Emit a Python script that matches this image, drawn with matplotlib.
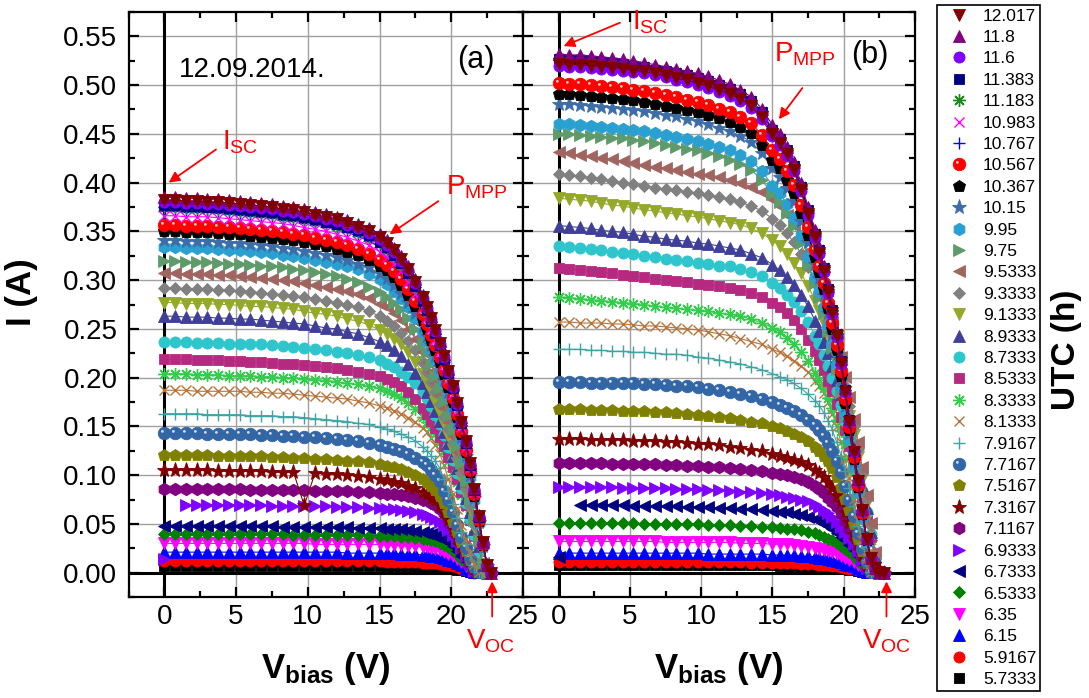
"""
I-V sweeps of the PV module on 12.09.2014, two panels (a) and (b),
one curve per sweep, labelled by the UTC hour of the sweep.
"""

import numpy as np
import matplotlib

matplotlib.use("Agg")

import matplotlib.pyplot as plt
from matplotlib.colors import to_rgb
from matplotlib.lines import Line2D
from matplotlib.path import Path
from matplotlib.ticker import FormatStrFormatter, MultipleLocator

plt.rcParams["font.family"] = ["Liberation Sans", "DejaVu Sans"]
plt.rcParams["mathtext.fontset"] = "custom"
plt.rcParams["mathtext.rm"] = "Liberation Sans"
plt.rcParams["mathtext.it"] = "Liberation Sans:italic"
plt.rcParams["mathtext.bf"] = "Liberation Sans:bold"

nan = float("nan")


# --------------------------------------------------------
# Data (currents in mA, latest sweep first)
# --------------------------------------------------------

utc_hours = [
    "12.017", "11.8", "11.6", "11.383", "11.183", "10.983", "10.767", "10.567",
    "10.367", "10.15", "9.95", "9.75", "9.5333", "9.3333", "9.1333", "8.9333",
    "8.7333", "8.5333", "8.3333", "8.1333", "7.9167", "7.7167", "7.5167", "7.3167",
    "7.1167", "6.9333", "6.7333", "6.5333", "6.35", "6.15", "5.9167", "5.7333",
]

bias_v = [
    0, 0.75, 1.5, 2.25, 3, 3.75, 4.5, 5.25, 6, 6.75, 7.5, 8.25, 9, 9.75, 10.5,
    11.25, 12, 12.75, 13.5, 14.25, 15, 15.5, 16, 16.5, 17, 17.5, 18, 18.3, 18.6,
    18.9, 19.2, 19.5, 19.8, 20.1, 20.4, 20.7, 21.0, 21.3, 21.6, 21.9, 22.2, 22.5, 22.8,
]

current_a = [
    [382, 382, 381, 381, 380, 380, 379, 378, 377, 376, 375, 373, 372, 370, 367, 365, 363, 359, 355, 350, 344, 338, 331, 322, 311, 298, 283, 272, 261, 249, 236, 222, 207, 191, 174, 155, 135, 112, 86, 58, 31, 8, 0],
    [385, 385, 384, 384, 383, 383, 382, 381, 380, 379, 378, 376, 375, 373, 370, 368, 365, 362, 358, 353, 347, 341, 333, 325, 314, 301, 285, 275, 263, 251, 238, 224, 209, 193, 176, 157, 136, 113, 87, 59, 31, 8, 0],
    [380, 380, 379, 379, 378, 378, 377, 376, 375, 374, 373, 371, 370, 368, 366, 363, 361, 357, 353, 348, 342, 336, 329, 320, 310, 297, 282, 271, 260, 248, 235, 221, 206, 190, 173, 155, 134, 111, 86, 58, 30, 8, 0],
    [377, 377, 376, 376, 375, 375, 374, 373, 372, 371, 370, 368, 367, 365, 363, 360, 358, 354, 351, 346, 339, 334, 326, 318, 307, 294, 279, 269, 258, 246, 233, 219, 205, 189, 172, 153, 133, 110, 85, 57, 30, 8, 0],
    [375, 375, 374, 374, 373, 373, 372, 371, 370, 369, 368, 366, 365, 363, 361, 359, 356, 353, 349, 344, 338, 332, 325, 316, 306, 293, 278, 267, 257, 245, 232, 218, 204, 188, 171, 153, 132, 110, 85, 57, 30, 8, 0],
    [366, 366, 365, 365, 365, 364, 363, 362, 361, 360, 359, 358, 356, 354, 352, 350, 347, 344, 340, 336, 329, 324, 317, 309, 298, 286, 271, 261, 250, 239, 226, 213, 199, 183, 167, 149, 129, 107, 83, 56, 29, 7, 0],
    [371, 371, 370, 370, 370, 369, 368, 367, 366, 365, 364, 362, 361, 359, 357, 355, 352, 349, 345, 340, 334, 328, 321, 313, 302, 290, 275, 265, 254, 242, 229, 216, 201, 186, 169, 151, 131, 109, 84, 56, 30, 7, 0],
    [357, 357, 356, 356, 356, 355, 354, 353, 352, 351, 350, 349, 347, 346, 343, 341, 339, 336, 332, 327, 321, 316, 309, 301, 291, 279, 265, 255, 244, 233, 221, 208, 194, 179, 163, 145, 126, 105, 81, 54, 29, 7, 0],
    [350, 350, 349, 349, 349, 348, 347, 347, 345, 344, 343, 342, 341, 339, 337, 335, 332, 329, 326, 321, 315, 310, 303, 295, 285, 273, 259, 250, 239, 228, 216, 204, 190, 175, 160, 142, 124, 103, 79, 53, 28, 7, 0],
    [341, 341, 340, 340, 340, 339, 338, 338, 337, 336, 335, 333, 332, 330, 328, 326, 324, 321, 317, 313, 307, 302, 295, 287, 278, 266, 253, 243, 233, 222, 211, 198, 185, 171, 155, 139, 120, 100, 77, 52, 27, 7, 0],
    [334, 334, 333, 333, 333, 332, 331, 331, 330, 329, 328, 326, 325, 323, 321, 319, 317, 314, 311, 306, 301, 296, 289, 282, 272, 261, 247, 238, 228, 218, 206, 194, 181, 167, 152, 136, 118, 98, 75, 51, 27, 7, 0],
    [320, 320, 319, 319, 319, 318, 317, 317, 316, 315, 314, 313, 311, 310, 308, 306, 304, 301, 298, 293, 288, 283, 277, 270, 261, 250, 236, 226, 214, 202, 189, 176, 161, 146, 130, 112, 94, 75, 54, 33, 10, 0],
    [307, 307, 306, 306, 306, 305, 305, 304, 303, 302, 301, 300, 299, 297, 295, 293, 291, 289, 286, 282, 276, 272, 266, 259, 250, 240, 226, 216, 206, 194, 182, 169, 155, 140, 124, 108, 90, 72, 52, 31, 10, 0],
    [292, 292, 291, 291, 291, 290, 290, 289, 288, 287, 286, 285, 284, 283, 281, 279, 277, 274, 272, 268, 263, 258, 253, 246, 238, 228, 215, 206, 196, 185, 173, 160, 147, 133, 118, 102, 86, 68, 50, 30, 9, 0],
    [277, 277, 276, 276, 276, 275, 275, 274, 273, 273, 272, 271, 270, 268, 266, 265, 263, 260, 258, 254, 249, 245, 240, 234, 226, 216, 204, 195, 186, 175, 164, 152, 140, 126, 112, 97, 81, 65, 47, 28, 9, 0],
    [263, 263, 262, 262, 262, 261, 261, 260, 260, 259, 258, 257, 256, 255, 253, 251, 250, 247, 245, 241, 237, 233, 228, 222, 214, 205, 194, 185, 176, 166, 156, 144, 133, 120, 107, 92, 77, 62, 45, 27, 8, 0],
    [237, 237, 237, 236, 236, 236, 235, 235, 234, 234, 233, 232, 231, 230, 229, 228, 226, 225, 223, 221, 218, 214, 211, 206, 201, 194, 186, 179, 171, 162, 152, 141, 129, 116, 102, 87, 71, 55, 39, 22, 6, 0],
    [219, 219, 219, 218, 218, 218, 217, 217, 216, 216, 215, 214, 214, 213, 212, 211, 210, 208, 206, 204, 202, 199, 196, 191, 185, 178, 169, 163, 156, 148, 139, 130, 119, 108, 96, 83, 69, 54, 38, 22, 6, 0],
    [204, 204, 204, 203, 203, 203, 202, 202, 202, 201, 201, 200, 200, 199, 198, 197, 196, 194, 193, 191, 189, 186, 183, 179, 174, 168, 160, 155, 149, 142, 134, 125, 115, 104, 93, 80, 67, 53, 38, 22, 6, 0],
    [187, 187, 187, 186, 186, 186, 186, 186, 185, 185, 184, 184, 183, 182, 181, 180, 179, 178, 176, 174, 171, 169, 166, 163, 159, 154, 148, 144, 138, 131, 122, 110, 96, 81, 65, 49, 34, 21, 9, 1],
    [163, 163, 163, 163, 162, 162, 162, 162, 161, 161, 161, 160, 160, 159, 158, 157, 156, 155, 153, 152, 149, 147, 145, 142, 139, 135, 129, 125, 120, 114, 107, 96, 84, 70, 56, 42, 29, 18, 8, 1],
    [143, 143, 143, 143, 142, 142, 142, 142, 142, 141, 141, 140, 140, 139, 139, 138, 137, 136, 135, 133, 131, 129, 127, 125, 122, 118, 113, 110, 105, 100, 94, 84, 74, 62, 49, 37, 26, 16, 7, 1],
    [121, 121, 121, 121, 121, 120, 120, 120, 120, 120, 119, 119, 118, 118, 117, 117, 116, 115, 114, 113, 111, 109, 108, 106, 103, 100, 96, 93, 89, 85, 79, 71, 62, 52, 42, 31, 22, 13, 6, 1],
    [105, 105, 105, 105, 105, 104, 104, 104, 104, 104, 103, 103, 103, 69, 102, 101, 101, 100, 99, 98, 96, 95, 93, 92, 89, 87, 83, 81, 77, 74, 69, 62, 54, 45, 36, 27, 19, 12, 5, 1],
    [86, 86, 86, 86, 86, 86, 86, 86, 85, 85, 85, 85, 85, 85, 84, 84, 84, 84, 83, 83, 82, 81, 81, 80, 79, 77, 75, 74, 71, 69, 65, 61, 55, 48, 40, 31, 21, 11, 3],
    [14, nan, 69, 69, 69, 69, 69, 69, 69, 69, 68, 68, 68, 68, 68, 68, 67, 67, 67, 66, 66, 65, 65, 64, 63, 62, 60, 59, 57, 55, 52, 49, 44, 39, 32, 25, 17, 9, 2],
    [48, 48, 48, 48, 48, 48, 48, 48, 48, 48, 48, 47, 47, 47, 47, 47, 47, 47, 46, 46, 46, 45, 45, 45, 44, 43, 42, 41, 40, 38, 36, 34, 31, 27, 22, 17, 12, 6, 1],
    [40, 40, 40, 40, 40, 40, 40, 40, 40, 40, 40, 40, 39, 39, 39, 39, 39, 39, 39, 38, 38, 38, 38, 37, 37, 36, 35, 34, 33, 32, 30, 28, 26, 22, 19, 14, 10, 5, 1],
    [30, 30, 30, 30, 30, 30, 30, 30, 30, 30, 30, 30, 30, 30, 29, 29, 29, 29, 29, 29, 29, 28, 28, 28, 27, 27, 26, 26, 25, 24, 23, 21, 19, 17, 14, 11, 7, 4, 1],
    [21, 21, 21, 21, 21, 21, 21, 21, 21, 21, 21, 21, 21, 21, 21, 21, 21, 20, 20, 20, 20, 20, 20, 19, 19, 19, 18, 18, 17, 17, 16, 15, 13, 12, 10, 8, 5, 3, 1],
    [12, 12, 12, 12, 12, 12, 12, 12, 12, 12, 12, 12, 12, 12, 12, 12, 12, 12, 12, 12, 12, 11, 11, 11, 11, 11, 10, 10, 10, 10, 9, 8, 8, 7, 6, 4, 3, 2, 0],
    [7, 7, 7, 7, 7, 7, 7, 7, 7, 7, 7, 7, 7, 7, 7, 7, 7, 7, 7, 7, 7, 7, 7, 7, 7, 6, 6, 6, 6, 6, 5, 5, 4, 4, 3, 3, 2, 1, 0],
]

current_b = [
    [522, 521, 521, 520, 519, 518, 517, 515, 514, 512, 509, 507, 505, 502, 499, 495, 491, 486, 479, 467, 450, 441, 429, 413, 392, 368, 344, 328, 309, 288, 266, 243, 215, 185, 155, 124, 94, 64, 35, 15, 5, 1, 0],
    [532, 531, 531, 530, 529, 528, 527, 525, 523, 521, 519, 517, 514, 512, 509, 505, 501, 495, 488, 476, 459, 450, 437, 421, 400, 375, 351, 334, 315, 294, 271, 247, 219, 189, 158, 127, 96, 65, 36, 15, 5, 1, 0],
    [520, 519, 519, 518, 517, 516, 515, 513, 512, 510, 508, 505, 503, 500, 497, 493, 489, 484, 477, 465, 448, 439, 427, 412, 391, 367, 343, 327, 308, 287, 265, 242, 214, 185, 154, 124, 94, 63, 35, 15, 5, 1, 0],
    [527, 526, 526, 525, 524, 523, 522, 520, 519, 516, 514, 512, 510, 507, 504, 500, 496, 491, 484, 472, 454, 445, 433, 417, 396, 372, 347, 331, 312, 291, 269, 245, 217, 187, 157, 125, 95, 64, 36, 15, 5, 1, 0],
    [528, 527, 527, 526, 525, 524, 523, 521, 520, 517, 515, 513, 511, 508, 505, 501, 497, 492, 485, 473, 455, 446, 433, 418, 397, 372, 348, 332, 313, 291, 269, 246, 218, 187, 157, 126, 95, 64, 36, 15, 5, 1, 0],
    [524, 523, 523, 522, 521, 520, 519, 517, 516, 514, 511, 509, 507, 504, 501, 497, 493, 488, 481, 469, 452, 443, 430, 415, 394, 369, 345, 329, 310, 289, 267, 244, 216, 186, 156, 125, 94, 64, 36, 15, 5, 1, 0],
    [526, 525, 525, 524, 523, 522, 521, 519, 518, 515, 513, 511, 509, 506, 503, 499, 495, 490, 483, 471, 453, 444, 432, 417, 395, 371, 347, 330, 311, 290, 268, 245, 217, 187, 156, 125, 95, 64, 36, 15, 5, 1, 0],
    [502, 501, 501, 500, 499, 498, 497, 495, 494, 492, 490, 488, 485, 483, 480, 476, 472, 467, 461, 449, 433, 424, 412, 398, 377, 354, 331, 315, 297, 277, 256, 233, 207, 178, 149, 119, 90, 61, 34, 14, 5, 1, 0],
    [491, 491, 490, 489, 488, 487, 486, 485, 483, 481, 479, 477, 475, 472, 469, 466, 462, 457, 451, 439, 423, 415, 403, 389, 369, 346, 324, 308, 291, 271, 250, 228, 202, 174, 146, 117, 88, 60, 33, 14, 4, 1, 0],
    [481, 481, 480, 479, 478, 477, 476, 475, 473, 471, 469, 468, 465, 463, 460, 456, 453, 448, 442, 430, 415, 406, 395, 381, 361, 339, 317, 302, 285, 266, 245, 224, 198, 171, 143, 114, 87, 59, 33, 13, 4, 1, 0],
    [460, 460, 459, 458, 457, 456, 455, 454, 453, 451, 449, 447, 445, 443, 440, 437, 433, 428, 422, 412, 397, 389, 378, 364, 345, 324, 303, 289, 272, 254, 235, 214, 190, 163, 137, 109, 83, 56, 31, 13, 4, 1, 0],
    [450, 450, 449, 448, 447, 446, 446, 444, 443, 441, 439, 437, 435, 433, 430, 427, 423, 419, 413, 403, 388, 380, 369, 356, 338, 317, 297, 283, 266, 248, 230, 209, 185, 160, 134, 107, 81, 55, 31, 13, 4, 1, 0],
    [431, 430, 428, 427, 425, 424, 422, 420, 418, 416, 415, 413, 411, 409, 408, 406, 403, 400, 396, 390, 383, 376, 367, 357, 345, 330, 313, 301, 287, 273, 257, 240, 221, 201, 180, 158, 134, 108, 80, 51, 21, 0],
    [409, 408, 407, 405, 404, 402, 400, 399, 397, 395, 393, 392, 390, 389, 387, 385, 383, 380, 376, 371, 363, 357, 348, 339, 327, 313, 297, 285, 273, 259, 244, 227, 210, 191, 171, 150, 127, 102, 76, 48, 20, 0],
    [384, 383, 382, 381, 379, 377, 376, 374, 372, 371, 369, 368, 366, 365, 363, 361, 359, 357, 353, 348, 341, 335, 327, 318, 307, 294, 279, 268, 256, 243, 229, 214, 197, 179, 161, 141, 119, 96, 71, 45, 18, 0],
    [356, 355, 354, 353, 351, 350, 349, 347, 345, 344, 342, 341, 340, 338, 337, 335, 333, 331, 327, 323, 316, 310, 303, 295, 285, 273, 258, 248, 237, 225, 212, 198, 183, 166, 149, 130, 110, 89, 66, 42, 17, 0],
    [335, 334, 333, 332, 331, 329, 328, 327, 325, 324, 322, 321, 320, 318, 317, 315, 314, 311, 308, 304, 297, 292, 285, 278, 268, 257, 243, 234, 223, 212, 200, 186, 172, 156, 140, 123, 104, 84, 62, 40, 16, 0],
    [312, 311, 310, 309, 308, 307, 305, 304, 303, 301, 300, 299, 298, 296, 295, 294, 292, 290, 287, 283, 277, 272, 266, 259, 250, 239, 227, 218, 208, 197, 186, 173, 160, 146, 130, 114, 97, 78, 58, 37, 15, 0],
    [283, 282, 281, 280, 279, 278, 277, 276, 275, 273, 272, 271, 270, 269, 268, 266, 265, 263, 260, 256, 251, 247, 241, 235, 226, 217, 205, 198, 189, 179, 169, 157, 145, 132, 118, 104, 88, 71, 53, 33, 14, 0],
    [257, 257, 256, 256, 256, 255, 255, 254, 253, 253, 252, 251, 250, 249, 247, 245, 243, 240, 237, 234, 229, 226, 222, 217, 212, 206, 197, 191, 184, 175, 163, 150, 134, 117, 97, 76, 54, 33, 15, 1],
    [229, 229, 229, 228, 228, 227, 227, 226, 226, 225, 224, 224, 223, 221, 220, 218, 216, 214, 211, 208, 204, 201, 198, 194, 189, 183, 176, 171, 164, 156, 146, 134, 120, 104, 87, 68, 48, 30, 13, 1],
    [196, 196, 196, 195, 195, 195, 194, 194, 193, 193, 192, 191, 191, 190, 188, 187, 185, 183, 181, 178, 175, 172, 169, 166, 162, 157, 151, 146, 140, 133, 125, 114, 103, 89, 74, 58, 41, 25, 11, 1],
    [168, 168, 168, 167, 167, 167, 166, 166, 166, 165, 165, 164, 163, 162, 161, 160, 159, 157, 155, 153, 150, 148, 145, 142, 139, 135, 129, 125, 120, 114, 107, 98, 88, 76, 64, 50, 35, 22, 10, 1],
    [137, 137, 137, 136, 136, 136, 136, 135, 135, 135, 134, 134, 133, 132, 132, 131, 129, 128, 126, 125, 122, 120, 118, 116, 113, 110, 105, 102, 98, 93, 87, 80, 72, 62, 52, 40, 29, 18, 8, 1],
    [112, 112, 112, 112, 112, 111, 111, 111, 111, 111, 110, 110, 109, 109, 108, 108, 107, 106, 105, 104, 102, 101, 100, 98, 96, 93, 89, 86, 82, 77, 72, 67, 60, 53, 45, 37, 27, 17, 6],
    [88, 88, 88, 88, 88, 88, 87, 87, 87, 87, 87, 86, 86, 86, 85, 85, 84, 83, 83, 82, 81, 80, 78, 77, 75, 73, 70, 67, 64, 61, 57, 52, 47, 42, 36, 29, 22, 13, 5],
    [16, nan, 69, 69, 69, 69, 69, 68, 68, 68, 68, 68, 67, 67, 67, 66, 66, 65, 65, 64, 63, 62, 62, 60, 59, 57, 55, 53, 50, 48, 45, 41, 37, 33, 28, 23, 17, 10, 4],
    [51, 51, 51, 51, 51, 51, 51, 51, 50, 50, 50, 50, 50, 50, 49, 49, 49, 48, 48, 47, 47, 46, 45, 45, 44, 42, 41, 39, 37, 35, 33, 30, 27, 24, 21, 17, 12, 8, 3],
    [32, 32, 32, 32, 32, 32, 32, 32, 32, 32, 31, 31, 31, 31, 31, 31, 31, 30, 30, 30, 29, 29, 29, 28, 27, 26, 25, 24, 23, 22, 21, 19, 17, 15, 13, 11, 8, 5, 2],
    [20, 20, 20, 20, 20, 20, 20, 20, 20, 20, 20, 20, 20, 20, 19, 19, 19, 19, 19, 19, 18, 18, 18, 18, 17, 17, 16, 15, 15, 14, 13, 12, 11, 9, 8, 7, 5, 3, 1],
    [11, 11, 11, 11, 11, 11, 11, 11, 11, 11, 11, 11, 11, 11, 11, 11, 11, 11, 10, 10, 10, 10, 10, 10, 9, 9, 9, 8, 8, 8, 7, 7, 6, 5, 4, 4, 3, 2, 1],
    [8, 8, 8, 8, 8, 8, 8, 8, 8, 8, 8, 8, 8, 8, 8, 8, 8, 8, 8, 8, 8, 7, 7, 7, 7, 7, 6, 6, 6, 6, 5, 5, 4, 4, 3, 3, 2, 1, 0],
]

symbols = [
    "v", "^", "o", "s", "ast", "x", "+", "sphere", "p", "*", "h", ">", "<", "D", "v", "^",
    "o", "s", "ast", "x", "+", "sphere", "p", "*", "h", ">", "<", "D", "v", "^", "o", "s",
]

colors = [
    "#800000", "#800080", "#8000FF", "#000080", "#1B8A1B", "#FF00FF", "#0000FF", "#FF0000",
    "#000000", "#3D6DA8", "#2AA0D0", "#5E9A6A", "#A06560", "#808080", "#94A82A", "#3F3F99",
    "#2EC6CC", "#B52A80", "#33CC4D", "#B8743A", "#3DA3A3", "#3366A6", "#808000", "#800000",
    "#800080", "#8000FF", "#000080", "#008000", "#FF00FF", "#0000FF", "#FF0000", "#000000",
]


# --------------------------------------------------------
# Markers
# --------------------------------------------------------

SIZES = {
    "v": 8.5, "^": 8.5, "<": 8.5, ">": 8.5, "o": 8, "s": 7, "D": 6.5,
    "p": 9, "h": 9, "*": 11, "+": 9, "x": 7.5, "ast": 9, "sphere": 9,
}

LINE_MARKERS = {"+", "x", "ast"}


def glint_path():
    # small highlight dot, padded with a stray vertex so it keeps its scale
    dot = Path.circle((-0.17, 0.17), 0.11)
    verts = np.vstack([[[0.5, 0.5]], dot.vertices])
    codes = np.concatenate([[Path.MOVETO], dot.codes])
    return Path(verts, codes)


GLINT = glint_path()


def glint_color(color):
    r, g, b = to_rgb(color)
    return (0.2 * r + 0.8, 0.2 * g + 0.8, 0.2 * b + 0.8)


def marker_kwargs(symbol, color):

    marker = symbol
    if symbol == "ast":
        marker = (8, 2, 0)
    if symbol == "sphere":
        marker = "o"

    if symbol in LINE_MARKERS:
        return dict(marker=marker, ms=SIZES[symbol], mec=color, mew=1.0)

    return dict(
        marker=marker,
        ms=SIZES[symbol],
        mfc=color,
        mec=color,
        mew=0.6,
    )


# --------------------------------------------------------
# Curves
# --------------------------------------------------------

def draw_curves(ax, currents):

    n = len(utc_hours)

    # earliest sweep first so the bright ones sit on top
    for k in range(n - 1, -1, -1):

        amps = np.asarray(currents[k], dtype=float) / 1000.0
        volts = np.asarray(bias_v[: len(amps)], dtype=float)

        z = 3 + 0.01 * (n - k)

        ax.plot(
            volts,
            amps,
            color=colors[k],
            lw=0.8,
            zorder=z,
            **marker_kwargs(symbols[k], colors[k]),
        )

        if symbols[k] == "sphere":
            ax.plot(
                volts,
                amps,
                ls="none",
                marker=GLINT,
                ms=SIZES["sphere"],
                mfc=glint_color(colors[k]),
                mew=0,
                zorder=z + 0.005,
            )


def legend_handles():

    handles = []

    for sym, col in zip(symbols, colors):

        h = Line2D([], [], ls="none", **marker_kwargs(sym, col))

        if sym == "sphere":
            g = Line2D(
                [], [], ls="none", marker=GLINT, ms=SIZES["sphere"],
                mfc=glint_color(col), mew=0,
            )
            h = (h, g)

        handles.append(h)

    return handles


# --------------------------------------------------------
# Axes styling
# --------------------------------------------------------

def style_axes(ax, left_labels):

    ax.set_xlim(-2.5, 25)
    ax.set_ylim(-0.025, 0.575)

    ax.xaxis.set_major_locator(MultipleLocator(5))
    ax.xaxis.set_minor_locator(MultipleLocator(2.5))
    ax.yaxis.set_major_locator(MultipleLocator(0.05))
    ax.yaxis.set_minor_locator(MultipleLocator(0.025))
    ax.yaxis.set_major_formatter(FormatStrFormatter("%.2f"))

    ax.tick_params(
        which="both", direction="in", top=True, right=True,
        width=1.6, labelsize=20,
    )
    ax.tick_params(which="major", length=7)
    ax.tick_params(which="minor", length=4)
    ax.tick_params(axis="x", pad=5)
    ax.tick_params(axis="y", pad=8, labelleft=left_labels, labelright=False)

    for sp in ax.spines.values():
        sp.set_linewidth(1.6)

    ax.set_axisbelow(True)
    ax.grid(True, which="major", color="#a0a0a0", lw=1.0)

    ax.axhline(0, color="black", lw=2.2, zorder=1.5)
    ax.axvline(0, color="black", lw=2.2, zorder=1.5)

    ax.set_xlabel(r"$\mathbf{V_{bias}}$ (V)", fontsize=25, fontweight="bold")
    ax.xaxis.set_label_coords(0.5, -0.09)


def red_arrow(ax, head, tail):

    ax.annotate(
        "",
        xy=head,
        xytext=tail,
        arrowprops=dict(
            arrowstyle="-|>", color="red", lw=1.3,
            mutation_scale=16, shrinkA=0, shrinkB=0,
        ),
        annotation_clip=False,
        zorder=20,
    )


def red_label(ax, x, y, text):

    ax.text(
        x, y, text, color="red", fontsize=20,
        ha="left", va="baseline", clip_on=False, zorder=20,
    )


# --------------------------------------------------------
# Figure
# --------------------------------------------------------

fig = plt.figure(figsize=(10.89, 6.98), dpi=100)

ax_a = fig.add_axes([128.5 / 1089, 1 - 597 / 698, 394.5 / 1089, 585 / 698])
ax_b = fig.add_axes([523 / 1089, 1 - 597 / 698, 392 / 1089, 585 / 698])

draw_curves(ax_a, current_a)
draw_curves(ax_b, current_b)

style_axes(ax_a, True)
style_axes(ax_b, False)

# panel (a) notes
ax_a.text(1.0, 0.516, "12.09.2014.", fontsize=20, ha="left", va="center", zorder=20)
ax_a.text(21.7, 0.526, "(a)", fontsize=22, ha="center", va="center", zorder=20)

red_label(ax_a, 4.0, 0.434, r"I$_{\mathrm{SC}}$")
red_arrow(ax_a, (0.3, 0.400), (3.6, 0.434))

red_label(ax_a, 19.6, 0.388, r"P$_{\mathrm{MPP}}$")
red_arrow(ax_a, (15.7, 0.347), (19.1, 0.381))

red_label(ax_a, 21.0, -0.078, r"V$_{\mathrm{OC}}$")
red_arrow(ax_a, (22.85, -0.009), (22.85, -0.045))

# panel (b) notes
ax_b.text(21.8, 0.531, "(b)", fontsize=22, ha="center", va="center", zorder=20)

red_label(ax_b, 5.15, 0.557, r"I$_{\mathrm{SC}}$")
red_arrow(ax_b, (0.35, 0.540), (4.3, 0.564))

red_label(ax_b, 15.1, 0.524, r"P$_{\mathrm{MPP}}$")
red_arrow(ax_b, (15.45, 0.465), (17.1, 0.497))

red_label(ax_b, 21.3, -0.078, r"V$_{\mathrm{OC}}$")
red_arrow(ax_b, (23.0, -0.009), (23.0, -0.045))

fig.text(
    22 / 1089, 1 - 292 / 698, "I (A)", rotation=90,
    fontsize=25, fontweight="bold", ha="center", va="center",
)

leg = fig.legend(
    legend_handles(),
    utc_hours,
    loc="upper left",
    bbox_to_anchor=(937 / 1089, 1 - 5 / 698),
    bbox_transform=fig.transFigure,
    frameon=True,
    fancybox=False,
    edgecolor="black",
    framealpha=1,
    fontsize=12.5,
    labelspacing=0.36,
    handlelength=2.1,
    handletextpad=0.35,
    borderpad=0.2,
    borderaxespad=0,
)
leg.get_frame().set_linewidth(1.2)

fig.text(
    1066 / 1089, 1 - 350 / 698, "UTC (h)", rotation=90,
    fontsize=24, fontweight="bold", ha="center", va="center",
)

fig.savefig("out.png", dpi=100)
